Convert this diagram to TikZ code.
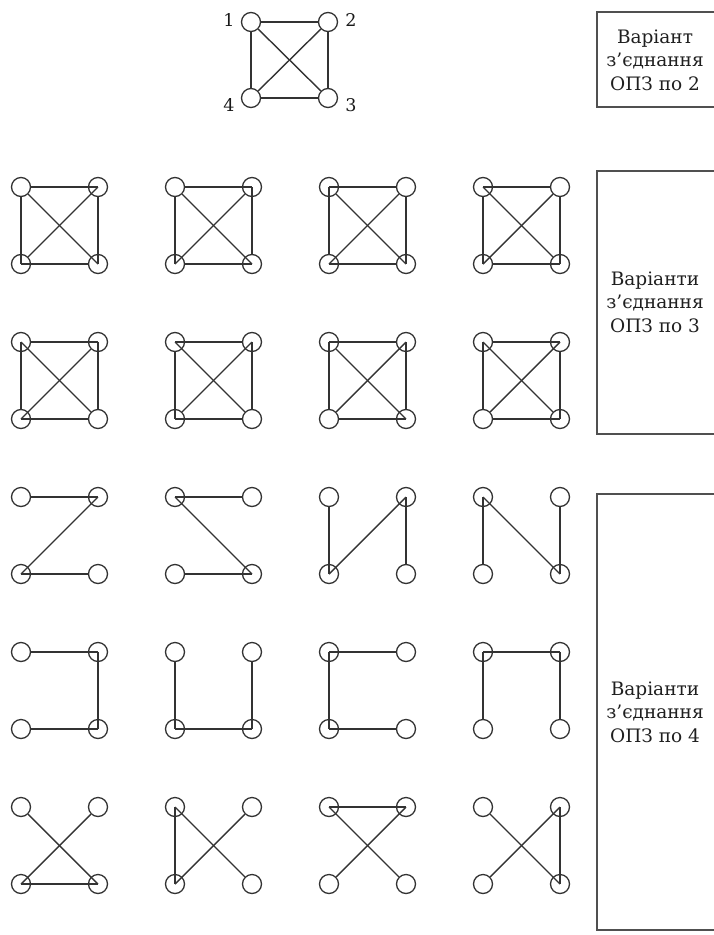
\documentclass[tikz,border=0pt]{standalone}
\usepackage{fontspec}
\setmainfont{DejaVu Serif}
\definecolor{linecol}{HTML}{333333}
\definecolor{boxcol}{HTML}{505050}
\tikzset{
  vtx/.style={circle, draw=linecol, line width=1.3pt, minimum size=19pt, inner sep=0pt},
  wire/.style={draw=linecol, line width=1.4pt},
  boxline/.style={draw=boxcol, line width=1.3pt},
  boxtext/.style={align=center, text=black!88, font=\fontsize{18.5}{23.5}\selectfont},
  numlab/.style={text=black!90, font=\fontsize{17.5}{19}\selectfont}
}
% four vertices of one small graph: name prefix, x of left column, y of top row
\newcommand{\gverts}[3]{%
  \node[vtx] (#1tl) at (#2,#3) {};
  \node[vtx] (#1tr) at (#2+77,#3) {};
  \node[vtx] (#1bl) at (#2,#3+77) {};
  \node[vtx] (#1br) at (#2+77,#3+77) {};
}
% K4 split into three 3-point joints: free vertex #2, cycle #3 -> #4 -> #5
\newcommand{\threeway}[5]{%
  \draw[wire] (#1#2) -- (#1#3.center);
  \draw[wire] (#1#2) -- (#1#4.center);
  \draw[wire] (#1#2) -- (#1#5.center);
  \draw[wire] (#1#3.center) -- (#1#4);
  \draw[wire] (#1#4.center) -- (#1#5);
  \draw[wire] (#1#5.center) -- (#1#3);
}
% path through four vertices #2-#3-#4-#5
\newcommand{\fourway}[5]{%
  \draw[wire] (#1#2) -- (#1#3.center);
  \draw[wire] (#1#3.center) -- (#1#4.center);
  \draw[wire] (#1#4.center) -- (#1#5);
}
\begin{document}
\begin{tikzpicture}[x=1pt,y=-1pt]
\useasboundingbox (0,0) rectangle (714,935);

% ---- top K4 ----
\node[vtx] (k1) at (251,22) {};
\node[vtx] (k2) at (328,22) {};
\node[vtx] (k3) at (328,98) {};
\node[vtx] (k4) at (251,98) {};
\node[numlab] (l1) at (229,20) {1};
\node[numlab] (l2) at (351,20) {2};
\node[numlab] (l3) at (351,105) {3};
\node[numlab] (l4) at (229,105) {4};
\draw[wire] (k1) -- (k2);
\draw[wire] (k2) -- (k3);
\draw[wire] (k3) -- (k4);
\draw[wire] (k4) -- (k1);
\draw[wire] (k1) -- (k3);
\draw[wire] (k2) -- (k4);

% ---- grid of graphs ----
\gverts{g1}{21}{187}  \gverts{g2}{175}{187}  \gverts{g3}{329}{187}  \gverts{g4}{483}{187}
\gverts{g5}{21}{342}  \gverts{g6}{175}{342}  \gverts{g7}{329}{342}  \gverts{g8}{483}{342}
\gverts{g9}{21}{497}  \gverts{g10}{175}{497} \gverts{g11}{329}{497} \gverts{g12}{483}{497}
\gverts{g13}{21}{652} \gverts{g14}{175}{652} \gverts{g15}{329}{652} \gverts{g16}{483}{652}
\gverts{g17}{21}{807} \gverts{g18}{175}{807} \gverts{g19}{329}{807} \gverts{g20}{483}{807}

\threeway{g1}{tl}{tr}{bl}{br}
\threeway{g2}{tl}{tr}{br}{bl}
\threeway{g3}{tr}{tl}{bl}{br}
\threeway{g4}{tr}{tl}{br}{bl}
\threeway{g5}{br}{tl}{bl}{tr}
\threeway{g6}{br}{tl}{tr}{bl}
\threeway{g7}{bl}{tl}{tr}{br}
\threeway{g8}{bl}{tl}{br}{tr}

\fourway{g9}{tl}{tr}{bl}{br}
\fourway{g10}{tr}{tl}{br}{bl}
\fourway{g11}{tl}{bl}{tr}{br}
\fourway{g12}{bl}{tl}{br}{tr}
\fourway{g13}{tl}{tr}{br}{bl}
\fourway{g14}{tl}{bl}{br}{tr}
\fourway{g15}{tr}{tl}{bl}{br}
\fourway{g16}{bl}{tl}{tr}{br}
\fourway{g17}{tl}{br}{bl}{tr}
\fourway{g18}{tr}{bl}{tl}{br}
\fourway{g19}{bl}{tr}{tl}{br}
\fourway{g20}{tl}{br}{tr}{bl}

% ---- side boxes ----
\draw[boxline] (720,12) -- (597,12) -- (597,107) -- (720,107);
\draw[boxline] (720,171) -- (597,171) -- (597,434) -- (720,434);
\draw[boxline] (720,494) -- (597,494) -- (597,930) -- (720,930);
\node[boxtext] (t1) at (655,60) {Варіант\\з’єднання\\ОПЗ по 2};
\node[boxtext] (t2) at (655,302) {Варіанти\\з’єднання\\ОПЗ по 3};
\node[boxtext] (t3) at (655,712) {Варіанти\\з’єднання\\ОПЗ по 4};
\end{tikzpicture}
\end{document}
